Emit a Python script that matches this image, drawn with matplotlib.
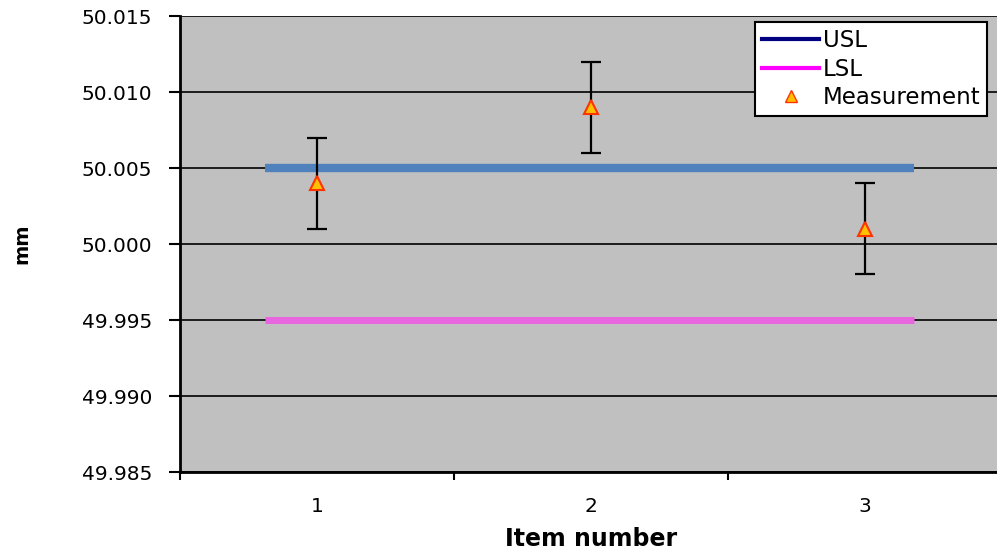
import matplotlib.pyplot as plt
from matplotlib.lines import Line2D

items = [1, 2, 3]
measurement = [50.004, 50.009, 50.001]
error = [0.003, 0.003, 0.003]
usl = 50.005
lsl = 49.995
y_ticks = [49.985, 49.990, 49.995, 50.000, 50.005, 50.010, 50.015]

plt.rcParams['font.family'] = ['DejaVu Sans']

fig = plt.figure(figsize=(9.97, 5.54), dpi=100)
ax = fig.add_axes([0.1805, 0.148, 0.8245, 0.8231])
ax.set_facecolor('#c0c0c0')

# category positions sit in the middle of each slot
x = [i - 0.5 for i in items]
ax.set_xlim(0, 3)
ax.set_ylim(49.985, 50.015)

for t in y_ticks:
    ax.axhline(t, color='black', lw=1.2, zorder=1)

ax.hlines(usl, 0.31, 2.68, color='#4f81bd', lw=6, zorder=2)
ax.hlines(lsl, 0.31, 2.68, color='#e866e0', lw=5, zorder=2)

ax.errorbar(x, measurement, yerr=error, fmt='none', ecolor='black',
            elinewidth=1.6, capsize=7.5, capthick=1.6, zorder=3)
ax.plot(x, measurement, linestyle='none', marker='^', markersize=10,
        markerfacecolor='#ffc000', markeredgecolor='#ff3300',
        markeredgewidth=1.5, zorder=4)

ax.set_yticks(y_ticks)
ax.set_yticklabels([f'{v:.3f}' for v in y_ticks], fontsize=14.5)
ax.set_xticks([0, 1, 2, 3])
ax.set_xticklabels([])
ax.set_xticks(x, minor=True)
ax.set_xticklabels([str(i) for i in items], minor=True, fontsize=14.5)
ax.tick_params(axis='x', which='minor', length=0, pad=18)
ax.tick_params(axis='x', which='major', direction='out', length=6, width=1.5)
ax.tick_params(axis='y', direction='out', length=8, width=1.5, pad=12)

for s in ['top', 'right']:
    ax.spines[s].set_visible(False)
for s in ['left', 'bottom']:
    ax.spines[s].set_linewidth(2)

ax.set_ylabel('mm', fontsize=14, fontweight='bold', labelpad=36)
ax.set_xlabel('Item number', fontsize=17, fontweight='bold', labelpad=8)

handles = [
    Line2D([], [], color='#000080', lw=3),
    Line2D([], [], color='#ff00ff', lw=3),
    Line2D([], [], linestyle='none', marker='^', markersize=8,
           markerfacecolor='#ffc000', markeredgecolor='#ff3300'),
]
leg = ax.legend(handles, ['USL', 'LSL', 'Measurement'], loc='upper right',
                bbox_to_anchor=(0.982, 0.987), fontsize=16.5, frameon=True,
                fancybox=False, framealpha=1, edgecolor='black',
                handlelength=2.5, handletextpad=0.15, borderpad=0.3,
                labelspacing=0.25, borderaxespad=0)
leg.get_frame().set_linewidth(1.5)

fig.savefig('out.png', dpi=100)
